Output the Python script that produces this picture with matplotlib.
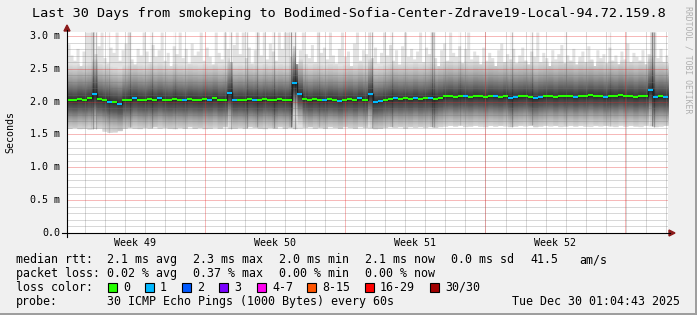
import numpy as np
import matplotlib
matplotlib.use("Agg")
import matplotlib.pyplot as plt
from matplotlib.lines import Line2D
from matplotlib.patches import Rectangle, Polygon

# ---------------- data ----------------
title = "Last 30 Days from smokeping to Bodimed-Sofia-Center-Zdrave19-Local-94.72.159.8"
med_bin = 0.25           # days per median value
# median rtt (ms) per quarter day
median = [
    2.03, 2.02, 2.04, 2.03, 2.05, 2.12, 2.04, 2.02, 2.00, 1.99,
    1.97, 2.02, 2.03, 2.05, 2.03, 2.02, 2.04, 2.03, 2.05, 2.03,
    2.02, 2.04, 2.03, 2.02, 2.04, 2.03, 2.02, 2.04, 2.03, 2.05,
    2.02, 2.03, 2.13, 2.02, 2.03, 2.02, 2.04, 2.03, 2.02, 2.04,
    2.03, 2.02, 2.04, 2.03, 2.03, 2.28, 2.12, 2.04, 2.02, 2.04,
    2.03, 2.02, 2.04, 2.03, 2.01, 2.03, 2.04, 2.02, 2.05, 2.03,
    2.12, 2.00, 2.01, 2.03, 2.04, 2.05, 2.04, 2.05, 2.04, 2.06,
    2.04, 2.05, 2.06, 2.04, 2.06, 2.08, 2.09, 2.07, 2.09, 2.08,
    2.07, 2.09, 2.08, 2.07, 2.09, 2.08, 2.07, 2.09, 2.06, 2.07,
    2.08, 2.09, 2.07, 2.05, 2.07, 2.08, 2.09, 2.07, 2.09, 2.08,
    2.09, 2.07, 2.09, 2.08, 2.10, 2.08, 2.09, 2.07, 2.09, 2.08,
    2.10, 2.08, 2.09, 2.07, 2.09, 2.08, 2.18, 2.07, 2.08, 2.07,
]
# lost pings (of 30) per quarter day
loss = [
    0, 0, 0, 0, 0, 1, 0, 0, 1, 0,
    1, 0, 0, 1, 0, 0, 0, 0, 1, 0,
    0, 0, 0, 1, 0, 0, 0, 0, 1, 0,
    0, 0, 1, 1, 0, 0, 0, 1, 0, 0,
    0, 0, 0, 0, 0, 1, 1, 0, 0, 0,
    0, 1, 0, 0, 1, 0, 0, 0, 1, 0,
    1, 1, 1, 0, 0, 1, 0, 0, 0, 1,
    0, 0, 1, 0, 0, 0, 0, 0, 0, 1,
    0, 0, 0, 0, 0, 1, 0, 0, 1, 1,
    0, 0, 0, 1, 1, 0, 0, 0, 0, 0,
    0, 1, 0, 0, 0, 0, 0, 1, 0, 0,
    0, 0, 0, 0, 0, 0, 1, 1, 0, 1,
]
hi_bin = 0.15            # days per max-ping value
# highest ping (ms)
smoke_hi = [
    2.88, 2.71, 2.63, 2.81, 2.55, 2.77, 3.06, 3.06, 3.06, 2.73,
    2.85, 3.06, 2.67, 2.59, 2.83, 2.75, 3.06, 2.63, 2.79, 2.89,
    3.06, 2.65, 2.57, 2.81, 2.71, 3.06, 2.77, 2.61, 2.87, 2.69,
    2.79, 3.06, 2.63, 2.75, 2.55, 2.85, 2.73, 3.06, 2.67, 2.81,
    2.59, 2.89, 2.71, 2.77, 3.06, 2.63, 2.83, 2.69, 2.57, 3.06,
    2.75, 2.65, 3.06, 2.81, 2.61, 2.87, 3.06, 2.73, 3.06, 2.67,
    2.83, 2.59, 2.79, 3.06, 2.71, 3.06, 2.65, 2.89, 2.77, 2.63,
    3.06, 2.81, 3.06, 3.06, 2.69, 2.85, 2.57, 2.79, 3.06, 2.73,
    2.67, 2.87, 2.61, 3.06, 2.75, 2.83, 2.65, 3.06, 2.71, 2.59,
    2.81, 3.06, 2.69, 2.77, 2.55, 2.89, 3.06, 2.63, 2.79, 2.73,
    3.06, 2.67, 2.83, 2.59, 2.75, 3.06, 2.71, 2.87, 2.63, 2.79,
    2.57, 2.85, 3.06, 2.69, 2.81, 2.65, 2.77, 3.06, 2.61, 2.83,
    2.73, 3.06, 2.67, 2.55, 2.79, 2.89, 2.63, 3.06, 2.75, 2.69,
    2.85, 2.59, 2.81, 3.06, 2.65, 2.77, 2.71, 2.57, 2.83, 2.63,
    2.75, 2.67, 2.55, 2.79, 2.89, 2.61, 2.73, 2.65, 2.81, 2.59,
    2.71, 2.83, 2.63, 2.57, 2.77, 2.69, 3.06, 2.61, 2.75, 2.67,
    2.55, 2.79, 2.65, 2.73, 2.87, 2.59, 2.71, 2.63, 2.81, 2.57,
    2.69, 2.77, 2.61, 2.85, 2.65, 2.55, 2.79, 2.67, 2.73, 2.59,
    2.83, 2.63, 2.71, 2.57, 2.77, 2.65, 2.89, 2.61, 2.75, 2.69,
    2.63, 2.79, 2.57, 2.73, 3.06, 3.06, 2.67, 2.81, 2.61, 2.71,
]
# lowest ping (ms) per quarter day
smoke_lo = [
    1.60, 1.61, 1.59, 1.60, 1.58, 1.59, 1.60, 1.55, 1.53, 1.54,
    1.56, 1.60, 1.61, 1.60, 1.59, 1.61, 1.60, 1.62, 1.60, 1.61,
    1.60, 1.59, 1.61, 1.60, 1.62, 1.60, 1.61, 1.59, 1.60, 1.61,
    1.60, 1.62, 1.59, 1.60, 1.61, 1.60, 1.62, 1.61, 1.60, 1.59,
    1.61, 1.60, 1.62, 1.60, 1.61, 1.59, 1.60, 1.61, 1.62, 1.60,
    1.61, 1.60, 1.62, 1.61, 1.60, 1.62, 1.61, 1.60, 1.62, 1.61,
    1.60, 1.59, 1.60, 1.61, 1.62, 1.61, 1.62, 1.60, 1.62, 1.61,
    1.62, 1.61, 1.62, 1.61, 1.62, 1.63, 1.64, 1.63, 1.64, 1.62,
    1.63, 1.64, 1.63, 1.62, 1.64, 1.63, 1.64, 1.63, 1.62, 1.63,
    1.64, 1.63, 1.64, 1.62, 1.63, 1.64, 1.63, 1.64, 1.62, 1.63,
    1.64, 1.63, 1.64, 1.63, 1.62, 1.64, 1.63, 1.64, 1.63, 1.62,
    1.64, 1.63, 1.64, 1.63, 1.62, 1.64, 1.63, 1.62, 1.63, 1.64,
]
# columns where many pings were slow (day offset, darkness)
streak_days = [1.30, 1.45, 2.10, 3.15, 4.24, 5.40, 8.19, 8.99, 9.49, 10.33,
               11.18, 11.38, 12.60, 15.23, 16.23, 18.22, 18.32, 19.60, 22.22,
               23.22, 24.90, 27.10, 29.21, 29.31]
streak_dark = [0.45, 0.35, 0.15, 0.30, 0.30, 0.15, 0.35, 0.30, 0.30, 0.35,
               0.60, 0.45, 0.15, 0.40, 0.30, 0.35, 0.30, 0.15, 0.35,
               0.30, 0.15, 0.15, 0.55, 0.40]

week_lines = [6.89, 13.88, 20.87, 27.86]
week_labels = ["Week 49", "Week 50", "Week 51", "Week 52"]
y_ticks = [0.0, 0.5, 1.0, 1.5, 2.0, 2.5, 3.0]
y_ticklabels = ["0.0", "0.5 m", "1.0 m", "1.5 m", "2.0 m", "2.5 m", "3.0 m"]

rtt_row = [("median rtt:", 16), ("2.1 ms avg", 107), ("2.3 ms max", 193),
           ("2.0 ms min", 279), ("2.1 ms now", 365), ("0.0 ms sd", 451),
           ("41.5", 530), ("am/s", 579)]
loss_row = [("packet loss:", 16), ("0.02 % avg", 107), ("0.37 % max", 193),
            ("0.00 % min", 279), ("0.00 % now", 365)]
loss_labels = ["0", "1", "2", "3", "4-7", "8-15", "16-29", "30/30"]
loss_colors = ["#26ff00", "#00b8ff", "#0059ff", "#7a00ff", "#ff00f0",
               "#ff5500", "#ff0000", "#a10000"]
loss_box_x = [108, 145, 182, 219, 257, 307, 365, 430]
probe_text = "30 ICMP Echo Pings (1000 Bytes) every 60s"
stamp = "Tue Dec 30 01:04:43 2025"

# ---------------- figure ----------------
W, H = 697, 315
FONT = "DejaVu Sans Mono"
fig = plt.figure(figsize=(W / 100, H / 100), dpi=100)
fig.patch.set_facecolor("#f0f0f0")

def P(x, y):
    return x / W, 1 - y / H

L, R, T, B = 67, 668, 32, 233
YMAX = 3.06
ax = fig.add_axes([L / W, 1 - B / H, (R - L) / W, (B - T) / H])
ax.set_xlim(0, 30)
ax.set_ylim(0, YMAX)
ax.set_facecolor("white")
for s in ax.spines.values():
    s.set_visible(False)
ax.set_xticks([])
ax.set_yticks([])

med = np.array(median)
hi = np.array(smoke_hi)
lo = np.array(smoke_lo)
n = len(med)

# common column grid (one column per screen pixel: 0.05 day)
xf = np.arange(0, 30.0001, 0.05)
mi = np.minimum((xf / med_bin).astype(int), n - 1)
hj = np.minimum((xf / hi_bin).astype(int), len(hi) - 1)
med_f, lo_f, hi_f = med[mi], lo[mi], hi[hj]

# smoke: lightest outer envelope then darker bands toward the median
ax.fill_between(xf, lo_f, hi_f, step="post", color="#e2e2e2", lw=0, zorder=1)
up_off = [0.0, 0.06, 0.15, 0.28, 0.42, 0.54]
up_gray = [0.17, 0.25, 0.38, 0.56, 0.73, 0.86]
dn_off = [0.0, 0.06, 0.13, 0.25, 0.34, 0.42, 0.47]
dn_gray = [0.17, 0.26, 0.34, 0.56, 0.70, 0.80, 0.86]
levels = np.linspace(0.86, 0.17, 30)
for g in levels:
    u = np.interp(g, up_gray, up_off)
    top = np.minimum(hi_f, med_f + u)
    ax.fill_between(xf, med_f, top, step="post", color=str(g), lw=0, zorder=2)
for g in levels:
    d = np.interp(g, dn_gray, dn_off)
    bot = np.maximum(lo_f, med_f - d)
    ax.fill_between(xf, bot, med_f, step="post", color=str(g), lw=0, zorder=2)

for dday, a in zip(streak_days, streak_dark):
    i = min(int(dday / med_bin), n - 1)
    ax.vlines(dday, lo[i], YMAX, color=(0, 0, 0, a * 0.12), lw=3.0, zorder=3)
    ax.vlines(dday, lo[i], YMAX, color=(0, 0, 0, a * 0.6), lw=0.75, zorder=3)

# grid (rrdtool dotted grid, seen at screen size as faint lines)
gcol = (0.45, 0.45, 0.45, 0.28)
rcol = (0.9, 0.15, 0.15, 0.32)
for k in range(1, 31):
    if k % 5:
        ax.axhline(k * 0.1, color=gcol, lw=0.72, zorder=4)
for k in range(-7, 30):
    xv = week_lines[0] + k
    if 0 < xv < 30 and all(abs(xv - w) > 0.01 for w in week_lines):
        ax.axvline(xv, color=gcol, lw=0.72, zorder=4)
for yv in y_ticks[1:]:
    ax.axhline(yv, color=rcol, lw=0.72, zorder=4)
for xv in week_lines:
    ax.axvline(xv, color=rcol, lw=0.72, zorder=4)

# median line coloured by loss
xe = np.arange(n + 1) * med_bin
ax.step(xe, np.append(med, med[-1]), where="post", color="#202020", lw=1.0, zorder=5)
cols = [loss_colors[min(int(l), 7)] for l in loss]
ax.hlines(med, xe[:-1], xe[1:], colors=cols, lw=1.5, zorder=6)

# axes lines + arrows
fig.add_artist(Line2D([P(62, 233)[0], P(670, 233)[0]], [P(62, 233)[1]] * 2, color="black", lw=0.8))
fig.add_artist(Line2D([P(67, 237)[0]] * 2, [P(67, 237)[1], P(67, 30)[1]], color="black", lw=0.8))
fig.add_artist(Polygon([P(669, 230), P(675, 233), P(669, 236)], closed=True, color="#8b1a1a"))
fig.add_artist(Polygon([P(64, 31), P(67, 25), P(70, 31)], closed=True, color="#8b1a1a"))

# texts
fig.text(*P(348.5, 17.5), title, family=FONT, fontsize=9.7, ha="center", va="baseline", color="black")
for yv, lab in zip(y_ticks, y_ticklabels):
    ypx = B - yv * (B - T) / YMAX
    fig.text(*P(60, ypx), lab, family=FONT, fontsize=7.2, ha="right", va="center")
for xv, lab in zip(week_lines, week_labels):
    xpx = L + (xv - 3.5) * (R - L) / 30
    fig.text(*P(xpx, 246), lab, family=FONT, fontsize=7.2, ha="center", va="baseline")
fig.text(*P(10.5, 132), "Seconds", family=FONT, fontsize=7.2, ha="center", va="center", rotation=90)
fig.text(*P(688, 60), "RRDTOOL / TOBI OETIKER", family=FONT, fontsize=5.9, ha="center",
         va="center", rotation=270, color="#b0b0b0")

for txt, x in rtt_row:
    fig.text(*P(x, 263.3), txt, family=FONT, fontsize=8.4, ha="left", va="baseline")
for txt, x in loss_row:
    fig.text(*P(x, 277), txt, family=FONT, fontsize=8.4, ha="left", va="baseline")
fig.text(*P(16, 290.7), "loss color:", family=FONT, fontsize=8.4, ha="left", va="baseline")
for lab, c, bx in zip(loss_labels, loss_colors, loss_box_x):
    x0, y0 = P(bx, 291.5)
    fig.add_artist(Rectangle((x0, y0), 9 / W, 9 / H, facecolor=c, edgecolor="black", lw=0.8))
    fig.text(*P(bx + 15, 290.7), lab, family=FONT, fontsize=8.4, ha="left", va="baseline")
fig.text(*P(16, 305), "probe:", family=FONT, fontsize=8.4, ha="left", va="baseline")
fig.text(*P(107, 305), probe_text, family=FONT, fontsize=8.4, ha="left", va="baseline")
fig.text(*P(680, 305), stamp, family=FONT, fontsize=8.4, ha="right", va="baseline")

# frame (shadow on right and bottom edges)
fig.add_artist(Rectangle((1 - 2 / W, 0), 2 / W, 1, facecolor="#9e9e9e", lw=0))
fig.add_artist(Rectangle((0, 0), 1, 2 / H, facecolor="#9e9e9e", lw=0))

fig.savefig("out.png", dpi=100, facecolor=fig.get_facecolor())
